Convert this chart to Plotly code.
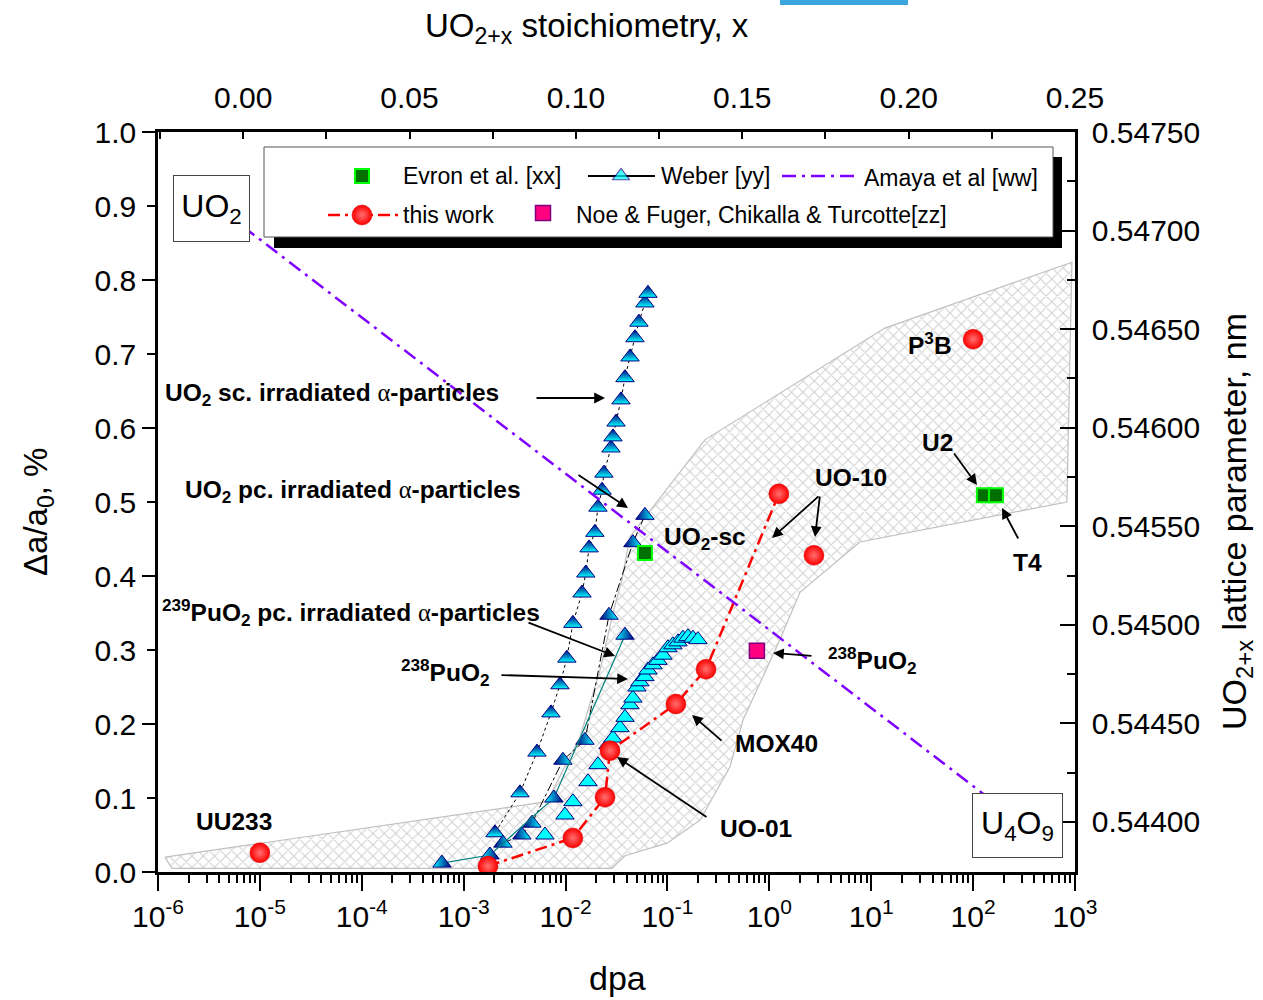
import plotly.graph_objects as go
import numpy as np

# ---------------- data ----------------
# shaded envelope (dpa, delta a / a0 %)
env_dpa = [1.17e-6, 1.37e-6, 2.85e-2, 3.83e-2, 9.89e-2, 0.209, 0.410, 0.551, 1.27, 2.0, 7.74,
           833, 933, 13.6, 0.233, 4.29e-2, 3.57e-2, 2.92e-2, 2.18e-2, 1.38e-2, 6.56e-3, 1.17e-6]
env_da = [0.020, 0.005, 0.005, 0.022, 0.039, 0.070, 0.142, 0.205, 0.314, 0.378, 0.446,
          0.500, 0.824, 0.735, 0.584, 0.453, 0.395, 0.350, 0.273, 0.182, 0.095, 0.020]

# Weber [yy] - UO2 single crystal, alpha irradiated
weber_sc_dpa = [2.03e-3, 3.57e-3, 5.24e-3, 7.19e-3, 8.81e-3, 1.03e-2, 1.18e-2, 1.45e-2, 1.58e-2,
                1.70e-2, 1.94e-2, 2.08e-2, 2.28e-2, 2.38e-2, 2.79e-2, 2.92e-2, 3.13e-2, 3.50e-2,
                3.83e-2, 4.29e-2, 4.80e-2, 5.25e-2, 6.01e-2, 6.44e-2]
weber_sc_da = [0.053, 0.107, 0.162, 0.215, 0.253, 0.289, 0.336, 0.377, 0.404, 0.438, 0.459, 0.493,
               0.516, 0.539, 0.573, 0.588, 0.608, 0.638, 0.668, 0.696, 0.722, 0.743, 0.769, 0.782]
# Weber - UO2 polycrystal
weber_pc_dpa = [2.43e-3, 3.73e-3, 4.68e-3, 9.42e-3, 1.55e-2, 2.67e-2, 4.58e-2, 6.01e-2]
weber_pc_da = [0.039, 0.050, 0.066, 0.151, 0.178, 0.347, 0.445, 0.482]
# Weber - 239PuO2 polycrystal
weber_pu239_dpa = [6.12e-4, 1.81e-3, 7.69e-3, 3.83e-2]
weber_pu239_da = [0.012, 0.023, 0.100, 0.320]
# Weber - 238PuO2
weber_pu238_dpa = [6.28e-3, 9.86e-3, 1.18e-2, 1.66e-2, 2.08e-2, 2.61e-2, 2.92e-2, 3.42e-2, 3.83e-2,
                   4.29e-2, 4.58e-2, 5.02e-2, 5.37e-2, 6.01e-2, 6.44e-2, 7.21e-2, 8.07e-2, 9.04e-2,
                   0.101, 0.113, 0.127, 0.142, 0.159, 0.178, 0.199]
weber_pu238_da = [0.050, 0.077, 0.095, 0.122, 0.145, 0.172, 0.181, 0.195, 0.209, 0.226, 0.235, 0.250,
                  0.257, 0.264, 0.273, 0.280, 0.286, 0.293, 0.303, 0.307, 0.311, 0.316, 0.318, 0.316,
                  0.314]

# this work
tw_dpa = [1.73e-3, 1.18e-2, 2.44e-2, 2.73e-2, 0.121, 0.239, 1.24]
tw_da = [0.008, 0.046, 0.101, 0.164, 0.227, 0.274, 0.511]
tw_other_dpa = [1.0e-5, 2.74, 100.0]
tw_other_da = [0.026, 0.428, 0.720]

# Evron et al. [xx]
evron_dpa = [6.01e-2, 127.6, 167.5]
evron_da = [0.431, 0.509, 0.509]

# Noe & Fuger, Chikalla & Turcotte [zz]
noe_dpa = [0.755]
noe_da = [0.299]

# Amaya et al [ww]: lattice parameter vs stoichiometry
amaya_x = [0.0, 0.235]
amaya_a = [0.54702, 0.54398]

# axis ticks
dec_vals = [10.0 ** e for e in range(-6, 4)]
dec_text = ["10<sup>%d</sup>" % e for e in range(-6, 4)]
minor_log = [m * 10.0 ** e for e in range(-6, 3) for m in range(2, 10)]
left_vals = [round(0.1 * i, 1) for i in range(11)]
top_vals = [0.0, 0.05, 0.10, 0.15, 0.20, 0.25]
top_minor = [-0.025, 0.025, 0.075, 0.125, 0.175, 0.225]
right_vals = [0.5440, 0.5445, 0.5450, 0.5455, 0.5460, 0.5465, 0.5470, 0.5475]
right_minor = [0.54375, 0.54425, 0.54475, 0.54525, 0.54575, 0.54625, 0.54675, 0.54725]

# ---------------- layout helpers (pixel -> paper) ----------------
L, R, T, B = 158, 1075, 132, 872
W, H = 1263, 1000
def px(x):
    return (x - L) / (R - L)
def py(y):
    return (B - y) / (B - T)

FONT = "Liberation Sans, Arial, sans-serif"
NAVY = "#000080"
CYAN = "#00ffff"

fig = go.Figure()

# envelope
fig.add_trace(go.Scatter(
    x=env_dpa, y=env_da, mode="lines", fill="toself",
    fillpattern=dict(shape="x", fgcolor="#a0a0a0", bgcolor="white", size=8, solidity=0.24),
    line=dict(color="#c0c0c0", width=1.2), hoverinfo="skip", showlegend=False))

TRI = 16
# Weber series
fig.add_trace(go.Scatter(
    x=weber_sc_dpa, y=weber_sc_da, mode="lines+markers", name="Weber [yy]",
    line=dict(color="black", width=1, dash="dot"),
    marker=dict(symbol="triangle-up", size=TRI, color=NAVY, line=dict(color=NAVY, width=1),
                gradient=dict(type="vertical", color=CYAN))))
fig.add_trace(go.Scatter(
    x=weber_pc_dpa, y=weber_pc_da, mode="lines+markers", name="Weber pc",
    line=dict(color="black", width=1, dash="dashdot"),
    marker=dict(symbol="triangle-up", size=TRI, color=NAVY, line=dict(color=NAVY, width=1),
                gradient=dict(type="horizontal", color=CYAN))))
fig.add_trace(go.Scatter(
    x=weber_pu239_dpa, y=weber_pu239_da, mode="lines+markers", name="Weber 239PuO2",
    line=dict(color="#008080", width=1.2),
    marker=dict(symbol="triangle-up", size=TRI, color=CYAN, line=dict(color=NAVY, width=1),
                gradient=dict(type="horizontal", color=NAVY))))
fig.add_trace(go.Scatter(
    x=weber_pu238_dpa, y=weber_pu238_da, mode="markers", name="Weber 238PuO2",
    marker=dict(symbol="triangle-up", size=TRI, color=CYAN, line=dict(color=NAVY, width=1))))

RED_MARK = dict(symbol="circle", size=20, color="#ff0000", line=dict(color="#d00000", width=0.5),
                gradient=dict(type="radial", color="#ff7070"))
# this work
fig.add_trace(go.Scatter(
    x=tw_dpa, y=tw_da, mode="lines+markers", name="this work",
    line=dict(color="#ff0000", width=2.5, dash="12px,5px,3px,5px"), marker=RED_MARK))
fig.add_trace(go.Scatter(
    x=tw_other_dpa, y=tw_other_da, mode="markers", name="this work (other)", marker=RED_MARK))

# Evron
GREEN_MARK = dict(symbol="square", size=14, color="#007000", line=dict(color="#00ff00", width=2))
fig.add_trace(go.Scatter(x=evron_dpa, y=evron_da, mode="markers", name="Evron et al. [xx]",
                         marker=GREEN_MARK))
# Noe
PINK_MARK = dict(symbol="square", size=15, color="#ff0080", line=dict(color="#800080", width=1.5))
fig.add_trace(go.Scatter(x=noe_dpa, y=noe_da, mode="markers",
                         name="Noe & Fuger, Chikalla & Turcotte[zz]", marker=PINK_MARK))

# Amaya (top / right axes)
AMAYA_LINE = dict(color="#8000ff", width=2.5, dash="14px,6px,3px,6px")
fig.add_trace(go.Scatter(x=amaya_x, y=amaya_a, mode="lines", name="Amaya et al [ww]",
                         line=AMAYA_LINE, xaxis="x2", yaxis="y2"))

# helper empty trace for the long left ticks axis
fig.add_trace(go.Scatter(x=[None], y=[None], xaxis="x", yaxis="y4", showlegend=False))

# ---------------- custom legend (pixel overlay axes) ----------------
leg_row1, leg_row2 = 176, 215
fig.add_trace(go.Scatter(x=[362], y=[leg_row1], mode="markers", marker=GREEN_MARK,
                         xaxis="x3", yaxis="y3", hoverinfo="skip"))
fig.add_trace(go.Scatter(x=[588, 621, 655], y=[leg_row1] * 3, mode="lines+markers",
                         line=dict(color="black", width=2),
                         marker=dict(symbol="triangle-up", size=[0, 15, 0], color=CYAN,
                                     line=dict(color=NAVY, width=1.2)),
                         xaxis="x3", yaxis="y3", hoverinfo="skip"))
fig.add_trace(go.Scatter(x=[782, 855], y=[leg_row1] * 2, mode="lines", line=AMAYA_LINE,
                         xaxis="x3", yaxis="y3", hoverinfo="skip"))
fig.add_trace(go.Scatter(x=[328, 398], y=[leg_row2] * 2, mode="lines",
                         line=dict(color="#ff0000", width=2.5, dash="12px,5px,3px,5px"),
                         xaxis="x3", yaxis="y3", hoverinfo="skip"))
fig.add_trace(go.Scatter(x=[362], y=[leg_row2], mode="markers", marker=RED_MARK,
                         xaxis="x3", yaxis="y3", hoverinfo="skip"))
fig.add_trace(go.Scatter(x=[543], y=[leg_row2 - 2], mode="markers", marker=PINK_MARK,
                         xaxis="x3", yaxis="y3", hoverinfo="skip"))

shapes = [
    dict(type="rect", xref="paper", yref="paper", x0=px(274), x1=px(1062), y0=py(248), y1=py(157),
         fillcolor="black", line=dict(width=0), layer="below"),
    dict(type="rect", xref="paper", yref="paper", x0=px(264), x1=px(1053), y0=py(237), y1=py(147),
         fillcolor="white", line=dict(color="#555555", width=1), layer="below"),
    dict(type="rect", xref="paper", yref="paper", x0=px(780), x1=px(908), y0=py(5), y1=py(0),
         fillcolor="#3aa6dd", line=dict(width=0)),
]

annotations = []
def txt(s, x, y, size=23, xanchor="left", bold=False, angle=0, yanchor="middle"):
    annotations.append(dict(text=("<b>%s</b>" % s) if bold else s, x=px(x), y=py(y),
                            xref="paper", yref="paper", xanchor=xanchor, yanchor=yanchor,
                            showarrow=False, textangle=angle,
                            font=dict(family=FONT, size=size, color="black")))

# legend texts
txt("Evron et al. [xx]", 401, leg_row1)
txt("Weber [yy]", 659, leg_row1)
txt("Amaya et al [ww]", 862, leg_row1 + 2)
txt("this work", 401, leg_row2)
txt("Noe &amp; Fuger, Chikalla &amp; Turcotte[zz]", 574, leg_row2)

ALPHA = "<span style=\"font-family:Liberation Serif;font-weight:normal\">α</span>"
LB = 24.5
# in-plot labels
txt("UO<sub>2</sub> sc. irradiated " + ALPHA + "-particles", 163, 394, size=LB, bold=True)
txt("UO<sub>2</sub> pc. irradiated " + ALPHA + "-particles", 183, 491, size=LB, bold=True)
txt("<sup>239</sup>PuO<sub>2</sub> pc. irradiated " + ALPHA + "-particles", 160, 612, size=LB, bold=True)
txt("<sup>238</sup>PuO<sub>2</sub>", 399, 672, size=LB, bold=True)
txt("UO<sub>2</sub>-sc", 662, 538, size=LB, bold=True)
txt("UO-10", 813, 477, size=LB, bold=True)
txt("P<sup>3</sup>B", 906, 343, size=LB, bold=True)
txt("U2", 920, 442, size=LB, bold=True)
txt("T4", 1011, 562, size=LB, bold=True)
txt("<sup>238</sup>PuO<sub>2</sub>", 826, 660, size=LB, bold=True)
txt("MOX40", 733, 743, size=LB, bold=True)
txt("UO-01", 718, 828, size=LB, bold=True)
txt("UU233", 194, 821, size=LB, bold=True)

# axis titles
txt("dpa", 617, 978, size=34, xanchor="center")
txt("UO<sub>2+x</sub> stoichiometry, x", 587, 28, size=33, xanchor="center")
txt("Δa/a<sub>0</sub>, %", 38, 512, size=33, xanchor="center", angle=-90)
txt("UO<sub>2+x</sub> lattice parameter, nm", 1236, 522, size=34, xanchor="center", angle=-90)

# boxed phase labels
annotations.append(dict(text="UO<sub>2</sub>", x=px(211.5), y=py(208.5), xref="paper", yref="paper",
                        showarrow=False, bgcolor="white", bordercolor="#444444", borderwidth=1,
                        width=71, height=61, borderpad=2, xanchor="center", yanchor="middle",
                        font=dict(family=FONT, size=32, color="black")))
annotations.append(dict(text="U<sub>4</sub>O<sub>9</sub>", x=px(1017.5), y=py(825.5), xref="paper",
                        yref="paper", showarrow=False, bgcolor="white", bordercolor="#444444",
                        borderwidth=1, width=85, height=59, borderpad=2, xanchor="center",
                        yanchor="middle", font=dict(family=FONT, size=32, color="black")))

# arrows (tail -> head, pixels)
arrows = [
    (535, 398, 605, 398), (577, 474, 628, 508), (527, 622, 615, 656), (500, 675, 628, 679),
    (708, 818, 617, 757), (723, 742, 692, 715), (820, 495, 772, 538), (820, 495, 815, 537),
    (813, 656, 773, 653), (953, 452, 977, 485), (1019, 540, 1002, 508),
]
for tx, ty, hx, hy in arrows:
    annotations.append(dict(text="", x=px(hx), y=py(hy), xref="paper", yref="paper",
                            ax=tx - hx, ay=ty - hy, axref="pixel", ayref="pixel",
                            showarrow=True, arrowhead=2, arrowsize=1.2, arrowwidth=1.8,
                            arrowcolor="black", standoff=0))

TICKFONT = dict(family=FONT, size=30, color="black")
fig.update_layout(
    width=W, height=H, margin=dict(l=L, r=W - R, t=T, b=H - B, pad=0),
    plot_bgcolor="white", paper_bgcolor="white", showlegend=False,
    font=dict(family=FONT, color="black"),
    xaxis=dict(type="log", range=[-6, 3], showline=True, linecolor="black", linewidth=3,
               ticks="outside", ticklen=16, tickwidth=2, tickcolor="black",
               tickmode="array", tickvals=dec_vals, ticktext=dec_text, tickfont=TICKFONT,
               ticklabelstandoff=0,
               minor=dict(tickmode="array", tickvals=minor_log, ticks="outside", ticklen=8,
                          tickwidth=1.5, tickcolor="black", showgrid=False),
               showgrid=False, zeroline=False),
    yaxis=dict(range=[0, 1], showline=True, linecolor="black", linewidth=2.5,
               ticks="outside", ticklen=8, tickwidth=2, tickcolor="black",
               tickmode="array", tickvals=left_vals, ticktext=["%.1f" % v for v in left_vals],
               tickfont=TICKFONT, ticklabelstandoff=5, showgrid=False, zeroline=False),
    yaxis4=dict(range=[0, 1], overlaying="y", anchor="x", side="left", showline=False,
                ticks="outside", ticklen=15, tickwidth=2, tickcolor="black",
                tickmode="array", tickvals=left_vals[::2], showticklabels=False,
                showgrid=False, zeroline=False),
    xaxis2=dict(range=[-0.0256, 0.25], overlaying="x", anchor="y2", side="top", showline=True,
                linecolor="black", linewidth=2.5, ticks="inside", ticklen=7, tickwidth=2,
                tickcolor="black", tickmode="array", tickvals=top_vals,
                ticktext=["%.2f" % v for v in top_vals], tickfont=TICKFONT, ticklabelstandoff=9,
                minor=dict(tickmode="array", tickvals=top_minor, ticks="inside", ticklen=7,
                           tickwidth=2, tickcolor="black", showgrid=False),
                showgrid=False, zeroline=False),
    yaxis2=dict(range=[0.543746, 0.5475], overlaying="y", anchor="x2", side="right",
                showline=True, linecolor="black", linewidth=2.5, ticks="inside", ticklen=15,
                tickwidth=2, tickcolor="black", tickmode="array", tickvals=right_vals,
                ticktext=["%.5f" % v for v in right_vals], tickfont=TICKFONT,
                ticklabelstandoff=8,
                minor=dict(tickmode="array", tickvals=right_minor, ticks="inside", ticklen=8,
                           tickwidth=2, tickcolor="black", showgrid=False),
                showgrid=False, zeroline=False),
    xaxis3=dict(range=[L, R], overlaying="x", anchor="y3", visible=False, fixedrange=True),
    yaxis3=dict(range=[B, T], overlaying="y", anchor="x3", visible=False, fixedrange=True),
    shapes=shapes, annotations=annotations,
)

fig.write_html("out.html")
